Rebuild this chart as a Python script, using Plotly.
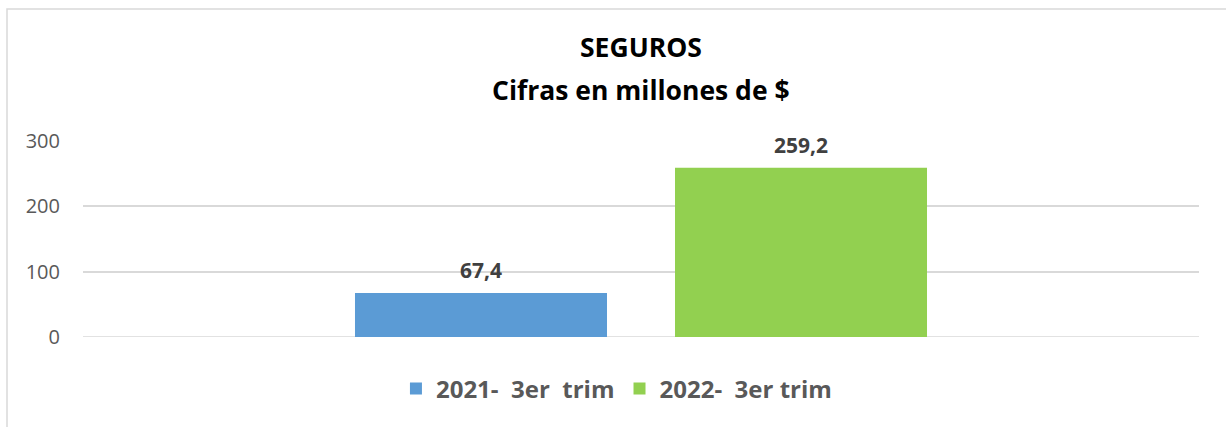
import plotly.graph_objects as go

series_names = ["2021-  3er  trim", "2022-  3er trim"]
values = [67.4, 259.2]
colors = ["#5B9BD5", "#92D050"]
category = ["SEGUROS"]
tick_vals = [0, 100, 200, 300]
title_lines = ["SEGUROS", "Cifras en millones de $"]

bargap = 0.4265
bargroupgap = 0.2125

FONT = "Open Sans"

fig = go.Figure()
for name, v, c in zip(series_names, values, colors):
    fig.add_trace(go.Bar(x=category, y=[v], name=name, marker_color=c,
                         marker_line_width=0, hoverinfo="skip"))

slot = (1 - bargap) / len(values)
for i, v in enumerate(values):
    xoff = -(1 - bargap) / 2 + slot * (i + 0.5)
    fig.add_annotation(x=xoff, y=v, xref="x", yref="y", text=f"<b>{v:.1f}</b>".replace(".", ","),
                       showarrow=False, yshift=23,
                       font=dict(family=FONT, size=21, color="#404040"))

for txt, ypos in zip(title_lines, [1.48, 1.26]):
    fig.add_annotation(x=0.5, y=ypos, xref="paper", yref="paper", yanchor="middle", xanchor="center",
                       text=f"<b>{txt}</b>", showarrow=False,
                       font=dict(family=FONT, size=26.5, color="#000000"))

fig.add_shape(type="rect", xref="paper", yref="paper", x0=-0.0681, x1=1.1, y0=-0.6, y1=1.674,
              line=dict(color="#D9D9D9", width=1.5), fillcolor="rgba(0,0,0,0)", layer="below")

fig.update_layout(
    width=1226, height=427,
    margin=dict(l=83, r=27, t=141, b=90, autoexpand=False),
    paper_bgcolor="white", plot_bgcolor="white",
    barmode="group", bargap=bargap, bargroupgap=bargroupgap,
    showlegend=True,
    legend=dict(orientation="h", x=0.478, xanchor="center", y=-0.265, yanchor="middle",
                font=dict(family=FONT, size=24, color="#595959", weight="bold"),
                itemwidth=30, traceorder="normal"),
    xaxis=dict(showticklabels=False, showgrid=False, showline=False, zeroline=False,
               range=[-0.5, 0.5]),
    yaxis=dict(range=[0, 300], tickvals=tick_vals, showgrid=True, gridcolor="#D9D9D9",
               gridwidth=1.5, zeroline=False, showline=False,
               tickfont=dict(family=FONT, size=20, color="#595959"),
               ticks="", ticklabelstandoff=22),
)
fig.add_hline(y=0, line_color="#D9D9D9", line_width=1.5, layer="below")

fig.write_html("out.html", config={"displayModeBar": False},
               post_script="document.body.style.margin='0px';")
